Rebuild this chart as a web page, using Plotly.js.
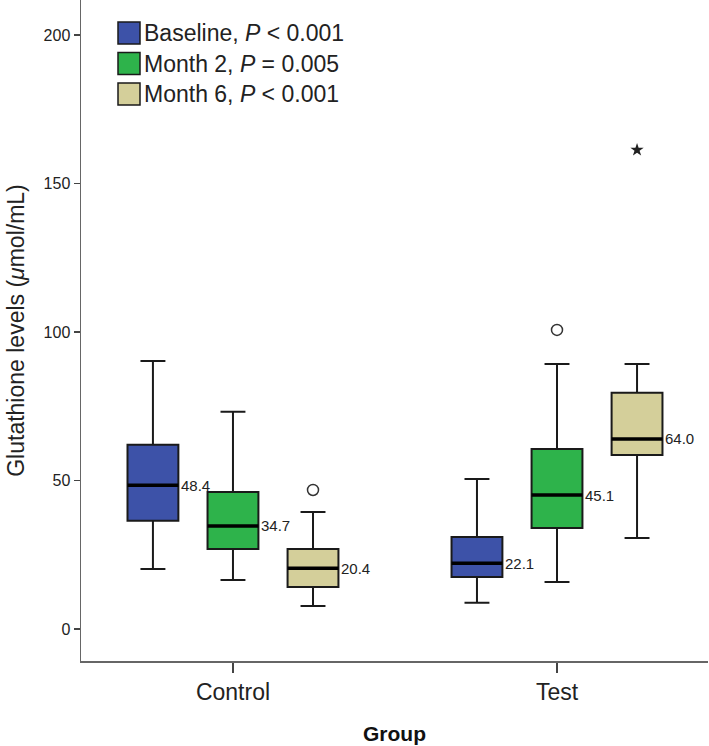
<!DOCTYPE html>
<html><head><meta charset="utf-8">
<script src="https://cdn.plot.ly/plotly-3.0.1.min.js"></script>
<style>html,body{margin:0;padding:0;background:#fff}#chart{width:709px;height:746px}</style>
</head><body><div id="chart"></div>
<script>
// ---- data ----
const groups = ['Control', 'Test'];
const seriesNames = ['Baseline', 'Month 2', 'Month 6'];
const pValues = ['< 0.001', '= 0.005', '< 0.001'];

const baselineLow    = [20.2, 8.8];
const baselineQ1     = [36.4, 17.5];
const baselineMedian = [48.4, 22.1];
const baselineQ3     = [62.0, 31.0];
const baselineHigh   = [90.2, 50.5];

const month2Low    = [16.5, 15.8];
const month2Q1     = [26.9, 34.0];
const month2Median = [34.7, 45.1];
const month2Q3     = [46.1, 60.6];
const month2High   = [73.1, 89.2];

const month6Low    = [7.7, 30.6];
const month6Q1     = [14.1, 58.6];
const month6Median = [20.4, 64.0];
const month6Q3     = [26.9, 79.5];
const month6High   = [39.4, 89.2];

// outliers: series index, group index, value, kind
const outlierSeries = [2, 1, 2];
const outlierGroup  = [0, 1, 1];
const outlierValues = [46.8, 100.7, 161.3];
const outlierKind   = ['outlier', 'outlier', 'extreme'];

const yTicks = [0, 50, 100, 150, 200];

// ---- style ----
const colors = ['#3D52A8', '#2EB34B', '#D4CF9A'];
const stats = [
  [baselineLow, baselineQ1, baselineMedian, baselineQ3, baselineHigh],
  [month2Low, month2Q1, month2Median, month2Q3, month2High],
  [month6Low, month6Q1, month6Median, month6Q3, month6High]
];
const step = 0.247;   // offset between boxes in a group (x units)
const boxW = 0.157;   // box width (x units)
const FONT = 'Liberation Sans, Arial, sans-serif';
const W = 709, H = 746, ML = 81, MR = 1, MT = 0, MB = 85;
const pw = W - ML - MR, ph = H - MT - MB;
const px = x => (x - ML) / pw;
const py = y => (H - MB - y) / ph;

const pos = (g, s) => g + (s - 1) * step;

const traces = [];
stats.forEach((st, s) => {
  const xs = groups.map((_, g) => pos(g, s));
  traces.push({
    type: 'box', name: seriesNames[s], x: xs,
    lowerfence: st[0], q1: st[1], median: st[2], q3: st[3], upperfence: st[4],
    width: boxW, whiskerwidth: 0.49, boxpoints: false,
    fillcolor: colors[s], line: {color: '#1a1a1a', width: 2},
    showlegend: false, hoverinfo: 'skip'
  });
});
// thick median lines and labels
const annotations = [];
stats.forEach((st, s) => {
  const mx = [], my = [];
  groups.forEach((_, g) => {
    const c = pos(g, s);
    mx.push(c - boxW / 2, c + boxW / 2, null);
    my.push(st[2][g], st[2][g], null);
    annotations.push({
      x: c + boxW / 2, y: st[2][g], xref: 'x', yref: 'y',
      text: st[2][g].toFixed(1), showarrow: false, xanchor: 'left', yanchor: 'middle', xshift: 1,
      font: {family: FONT, size: 15, color: '#222'}
    });
  });
  traces.push({type: 'scatter', mode: 'lines', x: mx, y: my,
    line: {color: '#000', width: 3.5}, showlegend: false, hoverinfo: 'skip'});
});
// outliers
['outlier', 'extreme'].forEach(kind => {
  const ox = [], oy = [];
  outlierValues.forEach((v, i) => {
    if (outlierKind[i] === kind) { ox.push(pos(outlierGroup[i], outlierSeries[i])); oy.push(v); }
  });
  traces.push({type: 'scatter', mode: 'markers', x: ox, y: oy, showlegend: false, hoverinfo: 'skip',
    marker: kind === 'outlier'
      ? {symbol: 'circle-open', size: 11, color: '#333', line: {width: 1.5, color: '#333'}}
      : {symbol: 'star', size: 10, color: '#222', line: {width: 0}}});
});

// custom legend
const shapes = [];
const legX0 = 118, legSize = 22, legY0 = 22, legDy = 30.5;
seriesNames.forEach((n, s) => {
  const top = legY0 + s * legDy;
  shapes.push({type: 'rect', xref: 'paper', yref: 'paper',
    x0: px(legX0), x1: px(legX0 + legSize), y0: py(top + legSize), y1: py(top),
    fillcolor: colors[s], line: {color: '#1a1a1a', width: 1.5}});
  annotations.push({xref: 'paper', yref: 'paper', x: px(legX0 + legSize + 2), y: py(top + legSize / 2),
    xanchor: 'left', yanchor: 'middle', showarrow: false,
    text: n + ', <i>P</i> ' + pValues[s], font: {family: FONT, size: 23, color: '#222'}});
});

const layout = {
  width: W, height: H, margin: {l: ML, r: MR, t: MT, b: MB},
  paper_bgcolor: '#fff', plot_bgcolor: '#fff', showlegend: false,
  font: {family: FONT, color: '#222'},
  xaxis: {
    range: [-0.469, 1.466], tickvals: groups.map((_, g) => g), ticktext: groups,
    showgrid: false, zeroline: false, showline: true, linecolor: '#666', linewidth: 1.5,
    ticks: 'outside', ticklen: 10, tickwidth: 1.5, tickcolor: '#444',
    tickfont: {family: FONT, size: 23, color: '#222'},
    title: {text: '<b>Group</b>', font: {family: FONT, size: 21, color: '#111'}, standoff: 22}
  },
  yaxis: {
    range: [-10.8, 211.8], tickvals: yTicks, ticktext: yTicks.map(String),
    showgrid: false, zeroline: false, showline: true, linecolor: '#666', linewidth: 1.5,
    ticks: 'outside', ticklen: 6, tickwidth: 1.5, tickcolor: '#444',
    tickfont: {family: FONT, size: 16, color: '#222'},
    title: {text: 'Glutathione levels (<i>μ</i>mol/mL)', font: {family: FONT, size: 23, color: '#222'}, standoff: 12}
  },
  shapes: shapes, annotations: annotations
};
Plotly.newPlot('chart', traces, layout, {displayModeBar: false, staticPlot: true});
</script></body></html>
